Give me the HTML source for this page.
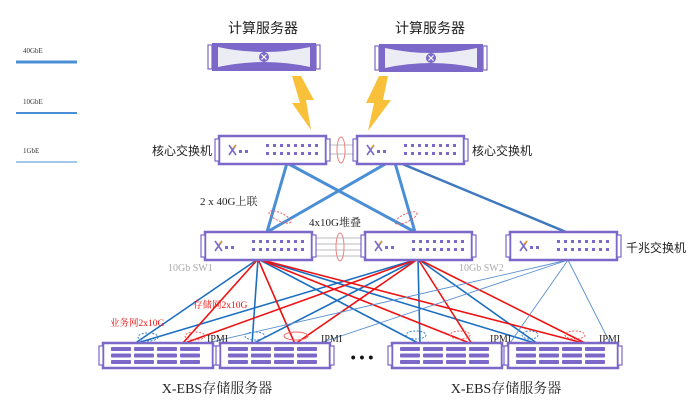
<!DOCTYPE html>
<html><head><meta charset="utf-8"><style>
body{margin:0;background:#fff}
svg{display:block}
text{font-family:"Liberation Sans","Noto Sans CJK SC",sans-serif}
text.m{font-family:"Liberation Serif","Noto Serif CJK SC",serif}
</style></head><body>
<svg width="696" height="400" viewBox="0 0 696 400" xmlns="http://www.w3.org/2000/svg">
<defs>
<g id="sw">
 <rect x="0" y="0" width="107" height="28" fill="#fff" stroke="#7b68c8" stroke-width="2.5"/>
 <rect x="-4" y="3" width="4" height="22" fill="#fff" stroke="#7b68c8" stroke-width="1.2"/>
 <rect x="107" y="3" width="4" height="22" fill="#fff" stroke="#7b68c8" stroke-width="1.2"/>
 <path d="M10 9 L17 19 M17 9 L10 19" stroke="#7b68c8" stroke-width="1.6"/>
 <path d="M14 12 L17 9" stroke="#f0a020" stroke-width="1.5"/>
 <rect x="20" y="14" width="3" height="3" fill="#7b68c8"/><rect x="26" y="14" width="3" height="3" fill="#7b68c8"/>
 <g fill="#7b68c8">
  <rect x="47" y="8" width="3" height="3"/><rect x="54" y="8" width="3" height="3"/><rect x="61" y="8" width="3" height="3"/><rect x="68" y="8" width="3" height="3"/><rect x="75" y="8" width="3" height="3"/><rect x="82" y="8" width="3" height="3"/><rect x="89" y="8" width="3" height="3"/><rect x="96" y="8" width="3" height="3"/>
  <rect x="47" y="16" width="3" height="3"/><rect x="54" y="16" width="3" height="3"/><rect x="61" y="16" width="3" height="3"/><rect x="68" y="16" width="3" height="3"/><rect x="75" y="16" width="3" height="3"/><rect x="82" y="16" width="3" height="3"/><rect x="89" y="16" width="3" height="3"/><rect x="96" y="16" width="3" height="3"/>
 </g>
</g>
<g id="cs">
 <rect x="0" y="0" width="104" height="28" fill="#7b68c8"/>
 <path d="M6 4 Q52 14 98 4 L98 24 Q52 14 6 24 Z" fill="#ececf4"/>
 <rect x="-4" y="2" width="4" height="24" fill="#fff" stroke="#7b68c8" stroke-width="1.2"/>
 <rect x="104" y="2" width="4" height="24" fill="#fff" stroke="#7b68c8" stroke-width="1.2"/>
 <circle cx="52" cy="14" r="5" fill="#7b68c8"/>
 <path d="M49.5 11.5 L54.5 16.5 M54.5 11.5 L49.5 16.5" stroke="#fff" stroke-width="1.2"/>
</g>
<g id="st">
 <rect x="0" y="0" width="110" height="25" fill="#fff" stroke="#7b68c8" stroke-width="2.5"/>
 <rect x="-4" y="3" width="4" height="19" fill="#fff" stroke="#7b68c8" stroke-width="1.2"/>
 <rect x="110" y="3" width="4" height="19" fill="#fff" stroke="#7b68c8" stroke-width="1.2"/>
 <g fill="#7b68c8">
  <rect x="8" y="4" width="20" height="4" rx="1"/><rect x="31" y="4" width="20" height="4" rx="1"/><rect x="54" y="4" width="20" height="4" rx="1"/><rect x="77" y="4" width="20" height="4" rx="1"/>
  <rect x="8" y="10.5" width="20" height="4" rx="1"/><rect x="31" y="10.5" width="20" height="4" rx="1"/><rect x="54" y="10.5" width="20" height="4" rx="1"/><rect x="77" y="10.5" width="20" height="4" rx="1"/>
  <rect x="8" y="17" width="20" height="4" rx="1"/><rect x="31" y="17" width="20" height="4" rx="1"/><rect x="54" y="17" width="20" height="4" rx="1"/><rect x="77" y="17" width="20" height="4" rx="1"/>
 </g>
</g>
</defs>

<text x="23" y="53" font-size="7" fill="#333" class="m">40GbE</text>
<line x1="16" y1="62" x2="77" y2="62" stroke="#4a8fd6" stroke-width="3"/>
<text x="23" y="104" font-size="7" fill="#333" class="m">10GbE</text>
<line x1="16" y1="113" x2="77" y2="113" stroke="#4a8fd6" stroke-width="2"/>
<text x="23" y="153" font-size="7" fill="#333" class="m">1GbE</text>
<line x1="16" y1="162" x2="77" y2="162" stroke="#4a8fd6" stroke-width="1"/>

<text x="263" y="33" font-size="14" text-anchor="middle" fill="#222">计算服务器</text>
<text x="430" y="33" font-size="14" text-anchor="middle" fill="#222">计算服务器</text>
<use href="#cs" x="212" y="43"/>
<use href="#cs" x="379" y="44"/>

<path d="M292 76 L301 76 L314 100 L306 100 L311 130 L292 103 L300 103 Z" fill="#f9c03a"/>
<path d="M388 76 L379 76 L366 103 L374 103 L368 131 L391 100 L383 100 Z" fill="#f9c03a"/>

<g stroke="#bbb" stroke-width="1"><line x1="327" y1="145" x2="356" y2="145"/><line x1="327" y1="154" x2="356" y2="154"/></g>
<ellipse cx="341" cy="150" rx="4" ry="13" fill="none" stroke="#f08080" stroke-width="1"/>
<g stroke="#bbb" stroke-width="1"><line x1="310" y1="238" x2="365" y2="238"/><line x1="310" y1="244" x2="365" y2="244"/><line x1="310" y1="250" x2="365" y2="250"/><line x1="310" y1="256" x2="365" y2="256"/></g>
<ellipse cx="340" cy="247" rx="4" ry="14" fill="none" stroke="#f08080" stroke-width="1"/>

<g stroke="#4a8fd6" stroke-width="3" fill="none">
<line x1="287" y1="163" x2="267" y2="232"/>
<line x1="287" y1="163" x2="415" y2="232"/>
<line x1="387" y1="163" x2="267" y2="232"/>
<line x1="395" y1="163" x2="415" y2="232"/>
</g>
<line x1="400" y1="163" x2="566" y2="232" stroke="#3f78be" stroke-width="2.5"/>
<ellipse cx="280" cy="217" rx="12" ry="4" transform="rotate(25 280 217)" fill="none" stroke="#f06060" stroke-dasharray="2,1.5"/>
<ellipse cx="406" cy="218" rx="12" ry="4" transform="rotate(-25 406 218)" fill="none" stroke="#f06060" stroke-dasharray="2,1.5"/>

<g stroke="#1c6fc0" stroke-width="1.6" fill="none">
<line x1="258" y1="259" x2="134" y2="344"/><line x1="258" y1="259" x2="252" y2="344"/><line x1="258" y1="259" x2="420" y2="344"/><line x1="258" y1="259" x2="538" y2="344"/>
<line x1="418" y1="259" x2="134" y2="344"/><line x1="418" y1="259" x2="252" y2="344"/><line x1="418" y1="259" x2="420" y2="344"/><line x1="418" y1="259" x2="538" y2="344"/>
</g>
<g stroke="#ee1111" stroke-width="1.6" fill="none">
<line x1="258" y1="259" x2="182" y2="344"/><line x1="258" y1="259" x2="295" y2="344"/><line x1="258" y1="259" x2="472" y2="344"/><line x1="258" y1="259" x2="587" y2="344"/>
<line x1="418" y1="259" x2="182" y2="344"/><line x1="418" y1="259" x2="295" y2="344"/><line x1="418" y1="259" x2="472" y2="344"/><line x1="418" y1="259" x2="587" y2="344"/>
</g>
<g stroke="#5a90d0" stroke-width="0.9" fill="none">
<line x1="568" y1="260" x2="207" y2="343"/><line x1="568" y1="260" x2="320" y2="343"/><line x1="568" y1="260" x2="510" y2="343"/><line x1="568" y1="260" x2="610" y2="343"/>
</g>
<g fill="none" stroke-dasharray="2,1.5" stroke-width="1">
<ellipse cx="148" cy="337" rx="10" ry="4" stroke="#3a7fd0"/><ellipse cx="195" cy="336" rx="10" ry="4" stroke="#f06060"/>
<ellipse cx="255" cy="336" rx="10" ry="4" stroke="#3a7fd0"/><ellipse cx="296" cy="336" rx="12" ry="4" stroke="#f06060" stroke-dasharray="none"/>
<ellipse cx="416" cy="335" rx="10" ry="4" stroke="#3a7fd0"/><ellipse cx="460" cy="335" rx="10" ry="4" stroke="#f06060"/>
<ellipse cx="530" cy="335" rx="8" ry="4" stroke="#3a7fd0"/><ellipse cx="575" cy="335" rx="10" ry="4" stroke="#f06060"/>
</g>

<use href="#sw" x="219" y="136"/>
<use href="#sw" x="357" y="136"/>
<use href="#sw" x="205" y="232"/>
<use href="#sw" x="365" y="232"/>
<use href="#sw" x="510" y="232"/>
<text x="212" y="155" font-size="12" text-anchor="end" fill="#222">核心交换机</text>
<text x="472" y="155" font-size="12" fill="#222">核心交换机</text>
<text x="626" y="252" font-size="12" fill="#222">千兆交换机</text>
<text x="200" y="205" font-size="11" fill="#222" class="m">2 x 40G上联</text>
<text x="309" y="226" font-size="11" fill="#222" class="m">4x10G堆叠</text>
<text x="168" y="271" font-size="10" fill="#aaa" class="m">10Gb SW1</text>
<text x="459" y="271" font-size="10" fill="#aaa" class="m">10Gb SW2</text>
<text x="193" y="308" font-size="9.5" fill="#ee1111" class="m">存储网2x10G</text>
<text x="110" y="326" font-size="9.5" fill="#ee1111" class="m">业务网2x10G</text>
<text x="207" y="342" font-size="10" fill="#222" class="m">IPMI</text>
<text x="321" y="342" font-size="10" fill="#222" class="m">IPMI</text>
<text x="490" y="342" font-size="10" fill="#222" class="m">IPMI</text>
<text x="599" y="342" font-size="10" fill="#222" class="m">IPMI</text>

<use href="#st" x="103" y="343"/>
<use href="#st" x="220" y="343"/>
<use href="#st" x="392" y="343"/>
<use href="#st" x="508" y="343"/>
<text x="362" y="362" font-size="14" text-anchor="middle" fill="#111" font-weight="bold">• • •</text>
<text x="217" y="393" font-size="14" text-anchor="middle" fill="#222" class="m">X-EBS存储服务器</text>
<text x="506" y="393" font-size="14" text-anchor="middle" fill="#222" class="m">X-EBS存储服务器</text>
</svg>
</body></html>
